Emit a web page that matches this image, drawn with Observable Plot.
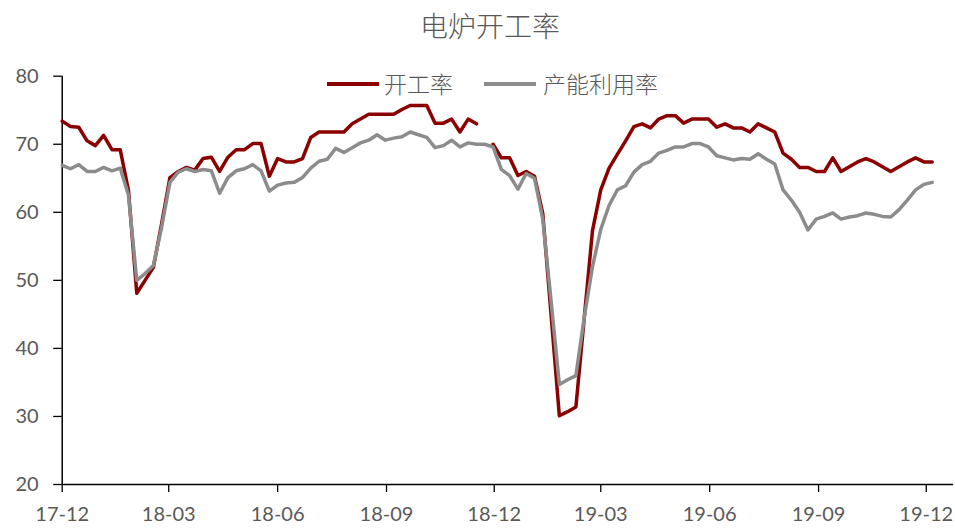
<!DOCTYPE html>
<html>
<head>
<meta charset="utf-8">
<script src="https://cdn.jsdelivr.net/npm/d3@7"></script>
<script src="https://cdn.jsdelivr.net/npm/@observablehq/plot@0.6"></script>
<style>
  html, body { margin: 0; padding: 0; background: #fff; }
  body { width: 955px; height: 528px; position: relative; overflow: hidden; font-family: "Noto Sans CJK SC", sans-serif; }
  #title { position: absolute; top: 6px; left: 0; width: 980px; text-align: center; font-size: 28px; font-weight: 300; color: #595959; line-height: 38px; }
  #chart { position: absolute; top: 56px; left: 0; }
  .sw { position: absolute; height: 4px; }
  .lt { position: absolute; font-size: 23px; font-weight: 300; color: #595959; line-height: 28px; white-space: nowrap; }
</style>
</head>
<body>
<div id="title">电炉开工率</div>
<div id="chart"></div>
<div class="sw" style="left:327px; top:82px; width:52px; background:#8b0000;"></div>
<div class="lt" style="left:384px; top:69px;">开工率</div>
<div class="sw" style="left:484px; top:82px; width:52px; background:#8c8c8c;"></div>
<div class="lt" style="left:543px; top:69px;">产能利用率</div>
<script>
// weekly observations, first week 2017-12-01
const firstWeek = "2017-12-01";
const seriesNames = ["开工率", "产能利用率"];
const kaigong = [
  73.4, 72.6, 72.5, 70.5, 69.8, 71.3, 69.2, 69.2, 63.2, 48.1,
  50.0, 51.9, 58.3, 65.1, 66.0, 66.6, 66.2, 67.9, 68.1, 66.0,
  68.1, 69.2, 69.2, 70.1, 70.1, 65.3, 67.9, 67.4, 67.4, 67.9,
  71.0, 71.8, 71.8, 71.8, 71.8, 73.0, 73.7, 74.4, 74.4, 74.4,
  74.4, 75.1, 75.7, 75.7, 75.7, 73.1, 73.1, 73.7, 71.8, 73.7,
  73.0, null, 70.0, 68.0, 68.0, 65.4, 66.0, 65.3, 59.8, 45.0,
  30.1, 30.7, 31.4, 44.4, 57.3, 63.3, 66.5, 68.5, 70.5, 72.6,
  73.0, 72.4, 73.7, 74.2, 74.2, 73.1, 73.7, 73.7, 73.7, 72.5,
  73.0, 72.4, 72.4, 71.8, 73.0, 72.4, 71.8, 68.7, 67.8, 66.6,
  66.6, 66.0, 66.0, 68.0, 66.0, 66.7, 67.4, 67.9, 67.4, 66.7,
  66.0, 66.7, 67.4, 68.0, 67.4, 67.4
];
const channeng = [
  66.9, 66.4, 67.0, 66.0, 66.0, 66.6, 66.1, 66.5, 62.5, 50.0,
  51.0, 52.2, 57.8, 64.4, 65.9, 66.4, 66.0, 66.3, 66.1, 62.8,
  65.1, 66.1, 66.4, 67.0, 66.1, 63.1, 64.0, 64.3, 64.4, 65.1,
  66.5, 67.5, 67.8, 69.4, 68.8, 69.5, 70.2, 70.6, 71.4, 70.6,
  70.9, 71.1, 71.8, 71.4, 71.0, 69.5, 69.8, 70.6, 69.6, 70.2,
  70.0, 70.0, 69.6, 66.3, 65.4, 63.4, 65.7, 65.0, 59.0, 47.0,
  34.7, 35.4, 36.0, 44.5, 52.0, 57.5, 61.0, 63.3, 63.9, 65.9,
  67.0, 67.5, 68.7, 69.1, 69.6, 69.6, 70.1, 70.1, 69.6, 68.3,
  68.0, 67.7, 67.9, 67.8, 68.6, 67.8, 67.1, 63.3, 61.8, 60.0,
  57.4, 59.0, 59.4, 59.9, 59.0, 59.3, 59.5, 59.9, 59.7, 59.4,
  59.3, 60.4, 61.8, 63.3, 64.1, 64.4
];
const xTickLabels = ["17-12", "18-03", "18-06", "18-09", "18-12", "19-03", "19-06", "19-09", "19-12"];
const yTicks = [20, 30, 40, 50, 60, 70, 80];
const xEnd = "2019-12-24";

const parseISO = d3.utcParse("%Y-%m-%d");
const parseTick = d3.utcParse("%y-%m");
const start = parseISO(firstWeek);
const rows = kaigong.map((v, i) => ({
  date: d3.utcDay.offset(start, 7 * i),
  rate: v,
  util: channeng[i]
}));
const xTicks = xTickLabels.map(parseTick);

const chart = Plot.plot({
  width: 955,
  height: 472,
  marginLeft: 61.7,
  marginRight: 2,
  marginTop: 19.7,
  marginBottom: 44,
  style: { fontFamily: "Lato, 'Liberation Sans', sans-serif", fontSize: "20px", color: "#595959", background: "white", overflow: "visible" },
  x: { type: "utc", domain: [start, parseISO(xEnd)] },
  y: { domain: [20, 80] },
  marks: [
    Plot.axisY({ ticks: yTicks, tickSize: 8.5, tickPadding: 15, stroke: "black", strokeWidth: 1.3, fill: "#595959", label: null, tickFormat: d => String(d) }),
    Plot.axisX({ ticks: xTicks, tickSize: 8, tickPadding: 14, stroke: "black", strokeWidth: 1.3, fill: "#595959", label: null, tickFormat: d3.utcFormat("%y-%m") }),
    Plot.ruleX([start], { stroke: "black", strokeWidth: 1.5 }),
    Plot.ruleY([20], { stroke: "black", strokeWidth: 1.5 }),
    Plot.line(rows, { x: "date", y: "rate", stroke: "#8b0000", strokeWidth: 3.5, strokeLinejoin: "round" }),
    Plot.line(rows, { x: "date", y: "util", stroke: "#8c8c8c", strokeWidth: 3.5, strokeLinejoin: "round" })
  ]
});
document.getElementById("chart").appendChild(chart);
</script>
</body>
</html>
